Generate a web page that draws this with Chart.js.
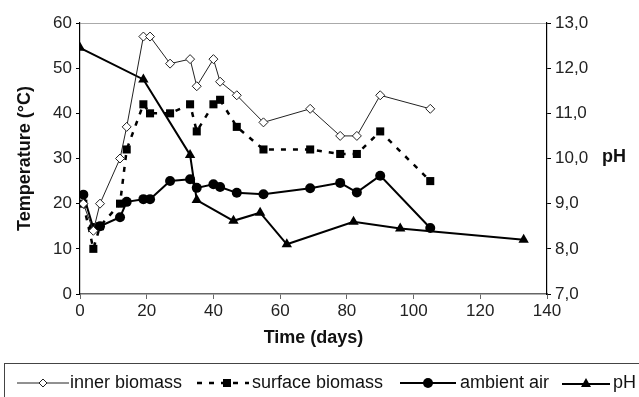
<!DOCTYPE html>
<html>
<head>
<meta charset="utf-8">
<script src="https://cdn.jsdelivr.net/npm/chart.js@4"></script>
<style>
  body { margin: 0; background: #fff; }
  #wrap { position: relative; width: 639px; height: 397px; overflow: hidden; font-family: "Liberation Sans", Arial, sans-serif; }
  #phLabel { position: absolute; left: 602px; top: 146px; font-weight: bold; font-size: 18px; color: #111; }
  #legend { position: absolute; left: 4px; top: 363px; width: 660px; height: 60px; border: 1px solid #444; box-sizing: border-box; }
  .lg { position: absolute; top: 372px; font-size: 18px; color: #111; line-height: 20px; white-space: nowrap; }
  .sw { position: absolute; top: 376px; }
</style>
</head>
<body>
<div id="wrap">
  <canvas id="chart" width="639" height="397"></canvas>
  <div id="phLabel">pH</div>
  <div id="legend"></div>
  <svg class="sw" style="left:17px" width="52" height="14"><line x1="0" y1="7" x2="52" y2="7" stroke="#222" stroke-width="1"/><polygon points="26,3 30,7 26,11 22,7" fill="#fff" stroke="#222" stroke-width="1"/></svg>
  <span class="lg" style="left:70px">inner biomass</span>
  <svg class="sw" style="left:197px" width="52" height="14"><line x1="0" y1="7" x2="52" y2="7" stroke="#000" stroke-width="2.5" stroke-dasharray="5,7"/><rect x="26" y="3" width="8" height="8" fill="#000"/></svg>
  <span class="lg" style="left:252px">surface biomass</span>
  <svg class="sw" style="left:400px" width="56" height="14"><line x1="0" y1="7" x2="56" y2="7" stroke="#000" stroke-width="2"/><circle cx="28" cy="7" r="5" fill="#000"/></svg>
  <span class="lg" style="left:460px">ambient air</span>
  <svg class="sw" style="left:562px" width="48" height="14"><line x1="0" y1="8" x2="48" y2="8" stroke="#000" stroke-width="2"/><polygon points="24,2 29,11 19,11" fill="#000"/></svg>
  <span class="lg" style="left:613px">pH</span>
</div>
<script>
// days for the temperature series
const days = [1, 4, 6, 12, 14, 19, 21, 27, 33, 35, 40, 42, 47, 55, 69, 78, 83, 90, 105];
const innerBiomass = [20, 14, 20, 30, 37, 57, 57, 51, 52, 46, 52, 47, 44, 38, 41, 35, 35, 44, 41];
const surfaceBiomass = [20, 10, 15, 20, 32, 42, 40, 40, 42, 36, 42, 43, 37, 32, 32, 31, 31, 36, 25];
const ambientAir = [22, 14.6, 15, 17, 20.4, 21, 21, 25, 25.4, 23.5, 24.3, 23.7, 22.4, 22.1, 23.4, 24.6, 22.5, 26.2, 14.6];

// pH measured on other days
const phDays = [0, 19, 33, 35, 46, 54, 62, 82, 96, 133];
const phValues = [12.45, 11.75, 10.08, 9.08, 8.62, 8.8, 8.1, 8.6, 8.45, 8.2];

const xTicks = [0, 20, 40, 60, 80, 100, 120, 140];
const tempTicks = [0, 10, 20, 30, 40, 50, 60];
const phTicks = [7, 8, 9, 10, 11, 12, 13];

function pts(xs, ys) {
  return xs.map((x, i) => ({x: x, y: ys[i]}));
}

const tickFont = {family: 'Liberation Sans', size: 17};
const titleFont = {family: 'Liberation Sans', size: 18, weight: 'bold'};

new Chart(document.getElementById('chart'), {
  type: 'line',
  data: {
    datasets: [
      {label: 'inner biomass', data: pts(days, innerBiomass), yAxisID: 'y',
       borderColor: '#222', borderWidth: 1, pointStyle: 'rectRot', pointRadius: 4.5,
       pointBackgroundColor: '#fff', pointBorderColor: '#222', pointBorderWidth: 1},
      {label: 'surface biomass', data: pts(days, surfaceBiomass), yAxisID: 'y',
       borderColor: '#000', borderWidth: 2.5, borderDash: [5, 7], pointStyle: 'rect', pointRadius: 5.7,
       pointBackgroundColor: '#000', pointBorderColor: '#000', pointBorderWidth: 0},
      {label: 'ambient air', data: pts(days, ambientAir), yAxisID: 'y',
       borderColor: '#000', borderWidth: 2, pointStyle: 'circle', pointRadius: 5,
       pointBackgroundColor: '#000', pointBorderColor: '#000', pointBorderWidth: 0},
      {label: 'pH', data: pts(phDays, phValues), yAxisID: 'y2',
       borderColor: '#000', borderWidth: 2, pointStyle: 'triangle', pointRadius: 6,
       pointBackgroundColor: '#000', pointBorderColor: '#000', pointBorderWidth: 0}
    ]
  },
  options: {
    responsive: false,
    animation: false,
    layout: {padding: {top: 23, bottom: 48, left: 0, right: 0}},
    plugins: {legend: {display: false}, tooltip: {enabled: false}},
    scales: {
      x: {
        type: 'linear', min: 0, max: 140,
        afterBuildTicks: s => { s.ticks = xTicks.map(v => ({value: v})); },
        afterFit: s => { s.height = 55; },
        grid: {drawOnChartArea: false, tickLength: 5, tickColor: '#666'},
        border: {color: '#666', width: 1.5},
        ticks: {font: tickFont, color: '#222', padding: 2, maxRotation: 0},
        title: {display: true, text: 'Time (days)', font: titleFont, color: '#111', padding: {top: 0, bottom: 0}}
      },
      y: {
        position: 'left', min: 0, max: 60,
        afterBuildTicks: s => { s.ticks = tempTicks.map(v => ({value: v})); },
        afterFit: s => { s.width = 80; },
        grid: {tickLength: 4, tickColor: '#000', color: c => c.tick && c.tick.value === 60 ? '#aaa' : 'rgba(0,0,0,0)'},
        border: {color: '#000', width: 1.2},
        ticks: {font: tickFont, color: '#222', padding: 4},
        title: {display: true, text: 'Temperature (°C)', font: titleFont, color: '#111', padding: {top: 14, bottom: 0}}
      },
      y2: {
        position: 'right', min: 7, max: 13,
        afterBuildTicks: s => { s.ticks = phTicks.map(v => ({value: v})); },
        afterFit: s => { s.width = 92; },
        grid: {drawOnChartArea: false, tickLength: 4, tickColor: '#000'},
        border: {color: '#000', width: 1.2},
        ticks: {font: tickFont, color: '#222', padding: 4, callback: v => v.toFixed(1).replace('.', ',')}
      }
    }
  }
});
</script>
</body>
</html>
